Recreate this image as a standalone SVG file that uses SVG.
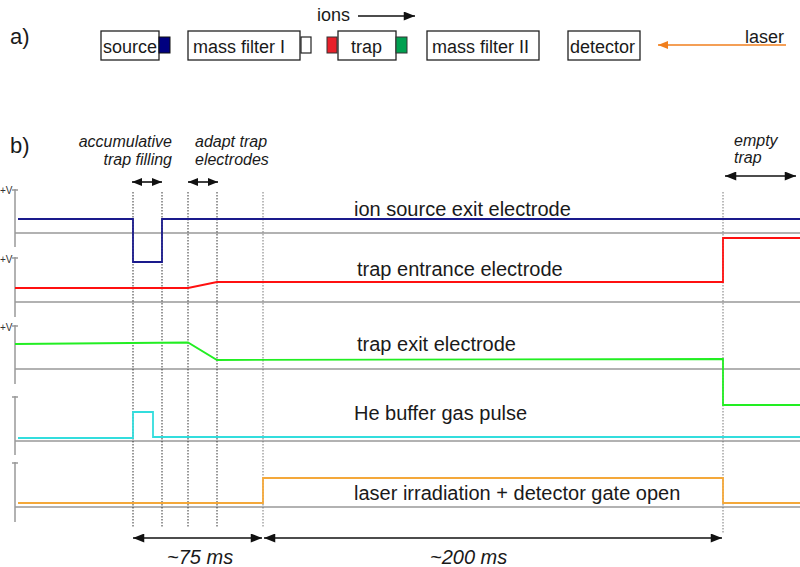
<svg xmlns="http://www.w3.org/2000/svg" width="800" height="567" viewBox="0 0 800 567">
<style>
text{font-family:"Liberation Sans",Arial,sans-serif;fill:#1a1a1a}
.t18{font-size:18px}
.lab{font-size:20px}
.it{font-style:italic;font-size:16px}
.itb{font-style:italic;font-size:20px}
.box{fill:#fff;stroke:#222;stroke-width:1.3}
.axis{stroke:#999;stroke-width:1.5;fill:none}
.base{stroke:#999;stroke-width:1.5;fill:none}
.dot{stroke:#333;stroke-width:1;stroke-dasharray:1.5,1.5;fill:none}
.dotg{stroke:#777;stroke-width:1;stroke-dasharray:1.5,1.5;fill:none}
.tr{fill:none;stroke-width:1.8;stroke-linejoin:miter}
.arr{stroke:#111;stroke-width:1.6;fill:none}
.small{font-size:10px;fill:#333}
</style>
<defs>
<marker id="ah" viewBox="0 0 10 8" refX="10" refY="4" markerUnits="userSpaceOnUse" markerWidth="13" markerHeight="9" orient="auto-start-reverse"><path d="M0,0L10,4L0,8z" fill="#111"/></marker>
<marker id="ahs" viewBox="0 0 10 8" refX="10" refY="4" markerUnits="userSpaceOnUse" markerWidth="10" markerHeight="8" orient="auto-start-reverse"><path d="M0,0L10,4L0,8z" fill="#111"/></marker>
<marker id="aho" viewBox="0 0 10 8" refX="10" refY="4" markerUnits="userSpaceOnUse" markerWidth="12" markerHeight="8" orient="auto-start-reverse"><path d="M0,0L10,4L0,8z" fill="#f07f1e"/></marker>
</defs>

<!-- part a -->
<text x="10" y="44" style="font-size:22px">a)</text>
<g id="source"><rect class="box" x="101" y="31" width="58" height="29"/><text class="t18" x="103" y="53">source</text><rect x="159" y="37" width="11" height="16" fill="#000080" stroke="#111" stroke-width="1"/></g>
<g id="massfilter1"><rect class="box" x="188" y="31" width="112" height="29"/><text class="t18" x="193" y="53">mass filter I</text><rect x="301" y="37" width="10" height="16" fill="#fff" stroke="#222" stroke-width="1.2"/></g>
<g id="trap"><rect x="327" y="37" width="10" height="16" fill="#e8202a" stroke="#333" stroke-width="1"/><rect class="box" x="338" y="31" width="58" height="29"/><text class="t18" x="351" y="53">trap</text><rect x="396" y="37" width="11" height="16" fill="#00a050" stroke="#333" stroke-width="1"/></g>
<g id="massfilter2"><rect class="box" x="427" y="31" width="112" height="29"/><text class="t18" x="432" y="53">mass filter II</text></g>
<g id="detector"><rect class="box" x="568" y="31" width="72" height="29"/><text class="t18" x="570" y="53">detector</text></g>
<g id="ions-label"><text class="t18" x="317" y="21">ions</text></g>
<g id="laser-label"><text class="t18" x="745" y="43">laser</text></g>
<g id="connectors-a">
<line class="arr" x1="358" y1="16" x2="415" y2="16" marker-end="url(#ah)"/>
<line x1="786" y1="45" x2="658" y2="45" stroke="#f07f1e" stroke-width="1.6" marker-end="url(#aho)"/>
</g>

<!-- part b -->
<text x="10" y="153" style="font-size:22px">b)</text>
<text class="it" x="172" y="147" text-anchor="end">accumulative</text>
<text class="it" x="172" y="165" text-anchor="end">trap filling</text>
<text class="it" x="195" y="147">adapt trap</text>
<text class="it" x="195" y="165">electrodes</text>
<text class="it" x="734" y="146">empty</text>
<text class="it" x="734" y="163">trap</text>

<g id="axes">
<text class="small" x="0" y="194">+V</text>
<text class="small" x="0" y="263">+V</text>
<text class="small" x="0" y="331">+V</text>
<path class="axis" d="M15,189V247M12,190H18"/>
<path class="axis" d="M15,257V317M12,258H18"/>
<path class="axis" d="M15,325V384M12,326H18"/>
<path class="axis" d="M15,396V455M12,397H18"/>
<path class="axis" d="M15,462V522M12,463H18"/>
<path class="base" d="M15,233H800M15,302H800M15,369H800M15,441H800M15,507H800"/>
</g>

<g id="markers">
<path class="dot" d="M133,192V527M162,192V527M188,192V528M217,192V527"/>
<path class="dotg" d="M263,192V528M723,192V534"/>
</g>

<g id="trace-source"><path class="tr" stroke="#1a1a8c" d="M18,219H133V262H162V219H800"/><text class="lab" x="354" y="216">ion source exit electrode</text></g>
<g id="trace-entrance"><path class="tr" stroke="#ff1010" d="M15,288H188L217,282H723V238H800"/><text class="lab" x="357" y="276">trap entrance electrode</text></g>
<g id="trace-exit"><path class="tr" stroke="#22ee22" d="M15,344L188,342.5L217,360L723,359V405H800"/><text class="lab" x="357" y="351">trap exit electrode</text></g>
<g id="trace-he"><path class="tr" stroke="#33dddd" d="M18,438H133V412H153V437H800"/><text class="lab" x="354" y="420">He buffer gas pulse</text></g>
<g id="trace-laser"><path class="tr" stroke="#f4a83a" d="M18,503H263V478H723V503H800"/><text class="lab" x="354" y="500">laser irradiation + detector gate open</text></g>

<g id="connectors-b">
<line class="arr" x1="132" y1="182" x2="162" y2="182" marker-start="url(#ahs)" marker-end="url(#ahs)"/>
<line class="arr" x1="188" y1="182" x2="218" y2="182" marker-start="url(#ahs)" marker-end="url(#ahs)"/>
<line class="arr" x1="725" y1="176" x2="796" y2="176" marker-start="url(#ah)" marker-end="url(#ah)"/>
<line class="arr" x1="133" y1="538" x2="262" y2="538" marker-start="url(#ah)" marker-end="url(#ah)"/>
<line class="arr" x1="264" y1="538" x2="722" y2="538" marker-start="url(#ah)" marker-end="url(#ah)"/>
</g>
<text class="itb" x="167" y="564">~75 ms</text>
<text class="itb" x="430" y="564">~200 ms</text>
</svg>
